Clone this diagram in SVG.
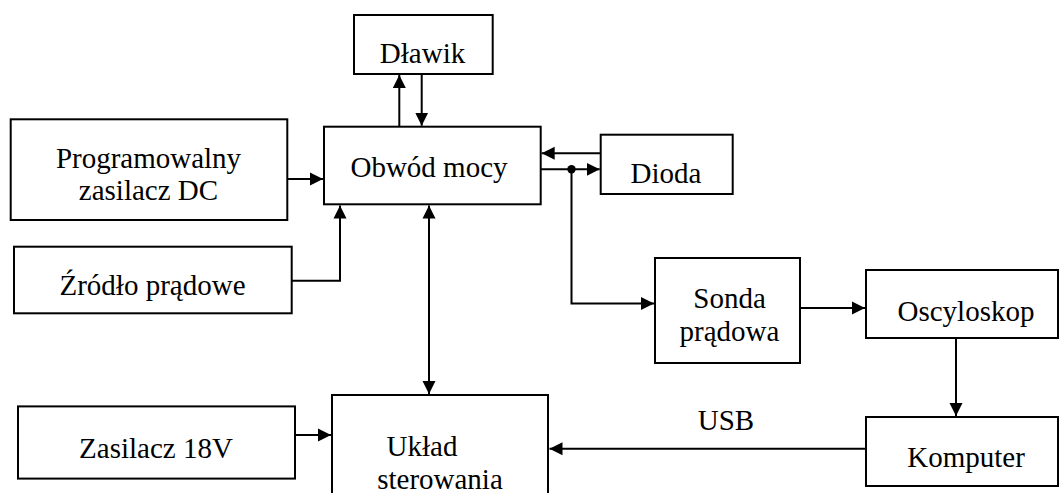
<svg xmlns="http://www.w3.org/2000/svg" width="1062" height="493" viewBox="0 0 1062 493">
<style>
.box{fill:#fff;stroke:#000;stroke-width:2}
.t{font-family:'Liberation Serif','Times New Roman','DejaVu Serif',serif;font-size:29px;fill:#000;text-anchor:middle}
.c{fill:none;stroke:#000;stroke-width:2}
</style>
<defs>
<marker id="ah" markerUnits="userSpaceOnUse" markerWidth="14" markerHeight="14" viewBox="0 0 14 14" refX="13" refY="7" orient="auto-start-reverse">
<path d="M0,0.5 L13,7 L0,13.5 z" fill="#000"/>
</marker>
</defs>
<rect width="1062" height="493" fill="#fff"/>
<g id="connectors">
<line class="c" x1="287" y1="179" x2="323" y2="179" marker-end="url(#ah)"/>
<polyline class="c" points="292,280.7 340,280.7 340,205.5" marker-end="url(#ah)"/>
<line class="c" x1="399.3" y1="126.7" x2="399.3" y2="75" marker-end="url(#ah)"/>
<line class="c" x1="421.7" y1="74" x2="421.7" y2="125.7" marker-end="url(#ah)"/>
<line class="c" x1="600.7" y1="153.3" x2="541.7" y2="153.3" marker-end="url(#ah)"/>
<line class="c" x1="540.7" y1="169.3" x2="599.7" y2="169.3" marker-end="url(#ah)"/>
<circle cx="571.5" cy="169.3" r="4.2" fill="#000"/>
<polyline class="c" points="571.5,169.3 571.5,303.5 654,303.5" marker-end="url(#ah)"/>
<line class="c" x1="800" y1="307.9" x2="865" y2="307.9" marker-end="url(#ah)"/>
<line class="c" x1="956" y1="338" x2="956" y2="416" marker-end="url(#ah)"/>
<line class="c" x1="866" y1="448.7" x2="549.5" y2="448.7" marker-end="url(#ah)"/>
<text class="t" x="726" y="430">USB</text>
<line class="c" x1="295" y1="435" x2="331" y2="435" marker-end="url(#ah)"/>
<line class="c" x1="429" y1="205.5" x2="429" y2="394" marker-start="url(#ah)" marker-end="url(#ah)"/>
</g>
<g id="dlawik"><rect class="box" x="354" y="15" width="138.7" height="59"/><text class="t" x="422.5" y="63">Dławik</text></g>
<g id="obwod"><rect class="box" x="324" y="126.7" width="216.7" height="77.6"/><text class="t" x="429" y="176.7">Obwód mocy</text></g>
<g id="dioda"><rect class="box" x="600.7" y="134.7" width="132" height="59.3"/><text class="t" x="666" y="183.3">Dioda</text></g>
<g id="zasilaczdc"><rect class="box" x="10.7" y="119.3" width="276.6" height="100.7"/><text class="t" x="148.5" y="168.3">Programowalny</text><text class="t" x="148.5" y="200">zasilacz DC</text></g>
<g id="zrodlo"><rect class="box" x="14" y="246.7" width="277.7" height="66.6"/><text class="t" x="152.5" y="295">Źródło prądowe</text></g>
<g id="sonda"><rect class="box" x="655" y="258" width="145" height="105"/><text class="t" x="729.5" y="307.9">Sonda</text><text class="t" x="729.5" y="341">prądowa</text></g>
<g id="oscyloskop"><rect class="box" x="866" y="270" width="192" height="68"/><text class="t" x="966" y="320.8">Oscyloskop</text></g>
<g id="komputer"><rect class="box" x="866" y="417" width="192" height="69"/><text class="t" x="966" y="466.7">Komputer</text></g>
<g id="zasilacz18"><rect class="box" x="18" y="406.4" width="277" height="72.2"/><text class="t" x="156" y="458">Zasilacz 18V</text></g>
<g id="uklad"><rect class="box" x="332" y="395" width="216" height="110"/><text class="t" x="422" y="455.7">Układ</text><text class="t" x="440" y="488.5">sterowania</text></g>
</svg>
